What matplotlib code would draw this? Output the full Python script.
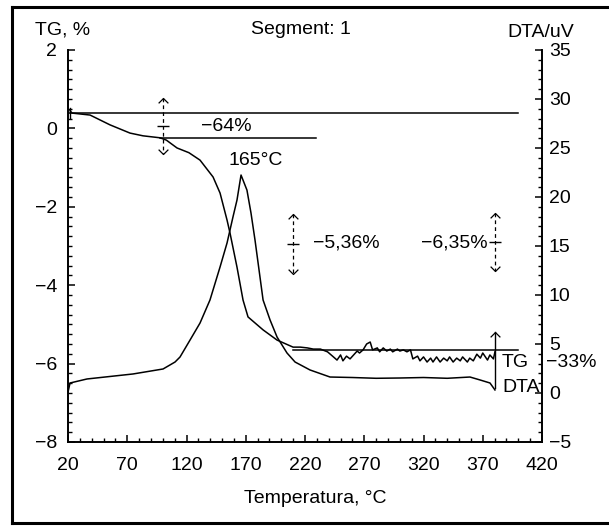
import matplotlib
matplotlib.use("Agg")
import matplotlib.pyplot as plt
from matplotlib.ticker import MultipleLocator
from matplotlib.lines import Line2D

plt.rcParams['font.family'] = ['Liberation Sans Narrow', 'Liberation Sans', 'DejaVu Sans']

# TG curve (temperature, %)
tg_T = [21.7, 23.4, 38.6, 55.4, 72.3, 83.3, 97.6, 103, 112, 122, 131.4, 142.4, 148.3,
        154.2, 156.7, 162.6, 167.7, 171.9, 184.6, 196.4, 209.9,
        216, 222, 227, 233, 239, 244, 247, 250, 252, 255, 258, 261, 264, 266, 269,
        272, 275, 277, 281, 283, 286, 289, 292, 294, 298, 300, 303, 306, 309,
        311, 315, 317, 320, 323, 326, 328, 331, 334, 337, 340, 342, 345, 348,
        351, 353, 357, 359, 362, 365, 368, 370, 374, 376, 379, 380.3]
tg_val = [0.45, 0.39, 0.34, 0.09, -0.12, -0.19, -0.24, -0.30, -0.50, -0.62, -0.81, -1.24, -1.65,
          -2.34, -2.67, -3.54, -4.38, -4.81, -5.14, -5.40, -5.58,
          -5.58, -5.60, -5.63, -5.63, -5.70, -5.83, -5.91, -5.78, -5.93, -5.81, -5.88,
          -5.78, -5.68, -5.73, -5.65, -5.50, -5.45, -5.65, -5.60, -5.70, -5.60, -5.68,
          -5.63, -5.70, -5.63, -5.68, -5.65, -5.70, -5.65, -5.88, -5.81, -5.93, -5.83,
          -5.96, -5.86, -5.96, -5.83, -5.96, -5.86, -5.93, -5.83, -5.96, -5.86, -5.93,
          -5.83, -5.96, -5.86, -5.93, -5.76, -5.86, -5.73, -5.91, -5.78, -5.88, -5.70]

# DTA curve (temperature, uV)
dta_T = [20, 21.7, 36, 74.8, 100.2, 110.3, 114.5, 123, 131.4, 139.8, 148.3, 154.2,
         159.2, 162.6, 166, 171, 174.4, 177.8, 181.2, 184.6, 190.5, 196.4, 204.8,
         211.6, 224.2, 241.1, 260, 280, 300.2, 320, 340, 359.2, 367.7, 376.1, 380.3]
dta_val = [0.10, 1.02, 1.43, 1.94, 2.45, 3.16, 3.67, 5.41, 7.14, 9.49, 12.86, 15.31,
           17.96, 19.69, 22.24, 20.7, 18.37, 15.6, 12.55, 9.49, 7.45, 5.71, 4.08,
           3.16, 2.35, 1.63, 1.58, 1.50, 1.53, 1.58, 1.50, 1.63, 1.33, 1.02, 0.31]

# step lines (TG level, from T, to T)
steps = [(0.39, 21, 400), (-0.245, 97.6, 229), (-5.65, 210, 400)]
# step markers (T, top TG, bottom TG)
markers = [(100, 0.78, -0.66), (210, -2.18, -3.72), (380.3, -2.15, -3.65)]

fig = plt.figure(figsize=(6.09, 5.26), dpi=100)
ax1 = fig.add_axes([0.1117, 0.1597, 0.7783, 0.7453])
ax2 = ax1.twinx()

ax1.plot(tg_T, tg_val, color='black', lw=1.1)
ax2.plot(dta_T, dta_val, color='black', lw=1.1)

for lvl, t0, t1 in steps:
    ax1.plot([t0, t1], [lvl, lvl], color='black', lw=1.1)
ax1.plot([21.7, 21.7], [0.52, 0.26], color='black', lw=1.0)

chev_up = [(-1, -1), (0, 0), (1, -1)]
chev_dn = [(-1, 1), (0, 0), (1, 1)]
for t, top, bot in markers:
    ax1.plot([t, t], [top, bot], color='black', lw=0.9, ls=(0, (3, 2.5)))
    ax1.plot([t], [top], marker=chev_up, ms=7, mfc='none', mec='black', mew=0.9)
    ax1.plot([t], [bot], marker=chev_dn, ms=7, mfc='none', mec='black', mew=0.9)
    ax1.plot([t], [(top + bot) / 2], marker='_', ms=8, mec='black', mew=1.0)
# last marker on the end of the curves
ax1.plot([380.3, 380.3], [-5.2, -6.62], color='black', lw=1.0)
ax1.plot([380.3], [-5.2], marker=chev_up, ms=7, mfc='none', mec='black', mew=0.9)

fs = 14
ax1.text(154, 0.04, '\u221264%', fontsize=fs, ha='center', va='center')
ax1.text(178, -0.81, '165\u00b0C', fontsize=fs, ha='center', va='center')
ax1.text(255, -2.92, '\u22125,36%', fontsize=fs, ha='center', va='center')
ax1.text(346, -2.92, '\u22126,35%', fontsize=fs, ha='center', va='center')
ax1.text(397, -5.98, 'TG', fontsize=fs, ha='center', va='center')
ax1.text(402, -6.62, 'DTA', fontsize=fs, ha='center', va='center')
ax1.text(444.5, -5.98, '\u221233%', fontsize=fs, ha='center', va='center', clip_on=False)

ax1.set_xlim(20, 420)
ax1.set_ylim(-8, 2)
ax2.set_ylim(-5, 35)
ax1.set_xticks(range(20, 421, 50))
ax1.set_yticks(range(-8, 3, 2))
ax2.set_yticks(range(-5, 36, 5))
ax1.xaxis.set_minor_locator(MultipleLocator(10))
ax1.yaxis.set_minor_locator(MultipleLocator(0.25))
ax2.yaxis.set_minor_locator(MultipleLocator(1))

ax1.tick_params(axis='x', which='major', direction='in', length=5, width=1.1, labelsize=fs, pad=11)
ax1.tick_params(axis='x', which='minor', direction='in', length=3, width=1.0)
ax1.tick_params(axis='y', which='major', direction='in', length=5, width=1.1, labelsize=fs, pad=8)
ax1.tick_params(axis='y', which='minor', direction='in', length=3, width=1.0)
ax2.tick_params(axis='y', which='major', direction='in', length=5, width=1.1, labelsize=fs, pad=5)
ax2.tick_params(axis='y', which='minor', direction='in', length=3, width=1.0)

for s in ['top', 'right']:
    ax1.spines[s].set_visible(False)
for s in ['top', 'left', 'bottom']:
    ax2.spines[s].set_visible(False)
for sp in [ax1.spines['left'], ax1.spines['bottom'], ax2.spines['right']]:
    sp.set_linewidth(1.4)

ax1.set_xlabel('Temperatura, \u00b0C', fontsize=fs, va='center')
ax1.xaxis.set_label_coords(0.521, -0.143)

fig.text(0.102, 0.943, 'TG, %', fontsize=fs, ha='center', va='center')
fig.text(0.494, 0.943, 'Segment: 1', fontsize=fs, ha='center', va='center')
fig.text(0.888, 0.939, 'DTA/uV', fontsize=fs, ha='center', va='center')

# outer frame
fig.add_artist(Line2D([0.02, 0.02], [0.006, 0.987], color='black', lw=2.2))
fig.add_artist(Line2D([0.02, 1.0], [0.987, 0.987], color='black', lw=2.2))
fig.add_artist(Line2D([0.02, 1.0], [0.006, 0.006], color='black', lw=2.2))

plt.savefig('out.png', dpi=100)
